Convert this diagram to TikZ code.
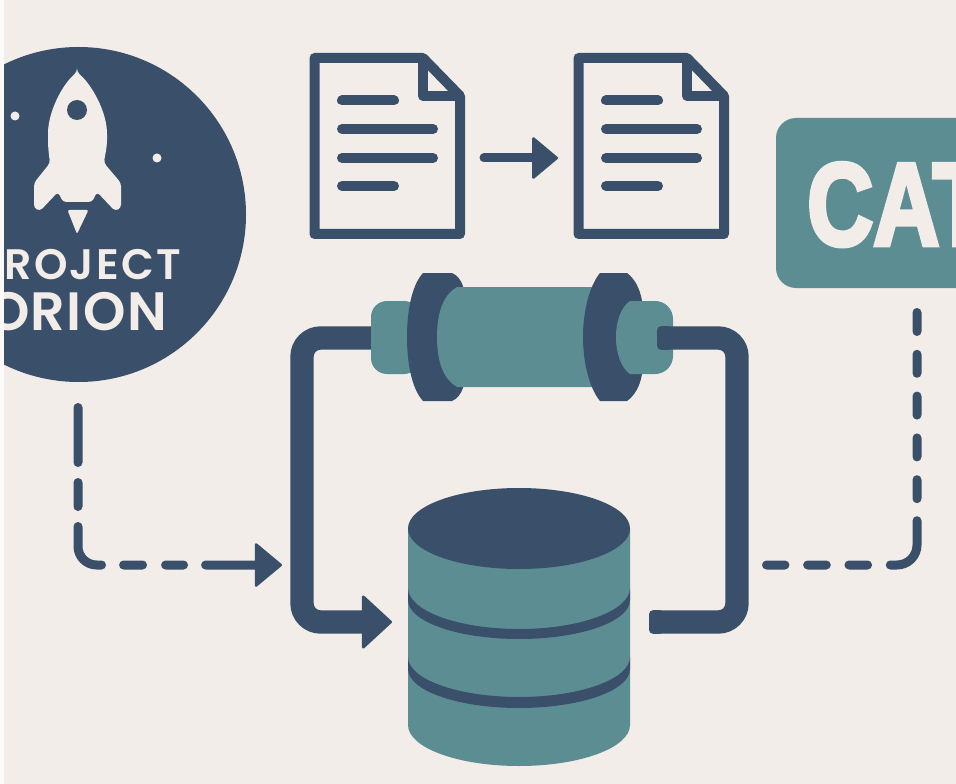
\documentclass[tikz,border=0pt]{standalone}
\usepackage{fontspec}
\usetikzlibrary{arrows.meta}
\newfontfamily\orionfont[LetterSpace=2.5]{Poppins SemiBold}
\newfontfamily\projfont[LetterSpace=5]{Poppins SemiBold}
\newfontfamily\catfont[FakeBold=4]{Liberation Sans Bold}
\definecolor{paper}{HTML}{F2EDE9}
\definecolor{strip}{HTML}{FBFAF9}
\definecolor{navy}{HTML}{3A4F6A}
\definecolor{teal}{HTML}{5B8D93}
\tikzset{
  thin line/.style={draw=navy,line width=6.75pt,line cap=round,line join=round},
  doc line/.style={draw=navy,line width=7.5pt,line cap=round},
  doc edge/.style={draw=navy,line width=7.5pt,line join=round},
  pipe/.style={draw=navy,line width=17.5pt,rounded corners=14pt},
  word/.style={inner sep=0pt,text=paper},
}
\begin{document}
\begin{tikzpicture}[x=0.75pt,y=-0.75pt]
\useasboundingbox (0,0) rectangle (956,784);
\fill[strip] (0,0) rectangle (956,784);
\begin{scope}
\clip (4,0) rectangle (956,784);
\fill[paper] (0,0) rectangle (956,784);

% logo
\fill[navy] (78.5,214.5) circle [radius=167.5];
\fill[paper,rounded corners=2.5] (77,72) .. controls (62,85) and (48,112) .. (48,137)
  .. controls (48,148) and (49,155) .. (50,163) -- (34,183) -- (34,208) -- (40,211) -- (58,192) -- (63,202)
  -- (92,202) -- (97,192) -- (115,211) -- (121,208) -- (121,183) -- (104,163)
  .. controls (105,155) and (107,148) .. (107,137) .. controls (107,112) and (92,85) .. (77,72) -- cycle;
\fill[navy] (77,110) circle [radius=10];
\fill[paper,rounded corners=1.5] (67.5,210) -- (88.5,210) -- (77,234) -- cycle;
\fill[paper] (15,116) circle [radius=4.5];
\fill[paper] (157,158) circle [radius=4.5];
\node[word,anchor=base east] (project) at (181,279) {\fontsize{32}{32}\projfont ROJECT};
\node[word,anchor=base east] (orion) at (167,330) {\fontsize{40.5}{40.5}\orionfont ORION};

% documents
\foreach \dx/\nm in {0/one,264/two}{
  \begin{scope}[xshift=\dx*0.75pt]
    \path[doc edge] (314.5,58) -- (423,58) -- (460,96) -- (460,234) -- (314.5,234) -- cycle;
    \path[doc edge] (423,58) -- (423,96) -- (460,96);
    \path[doc line] (342,100.5) -- (394,100.5);
    \path[doc line] (342,129) -- (433,129);
    \path[doc line] (342,158) -- (433,158);
    \path[doc line] (342,186) -- (394,186);
  \end{scope}
}
\coordinate (arrowstart) at (484,158);
\coordinate (arrowend) at (558,158);
\draw[thin line,-{Triangle[round,length=20pt,width=33pt,line width=2pt]}] (arrowstart) -- (arrowend);

% catalog label
\fill[teal,rounded corners=15pt] (776,118) rectangle (1000,288);
\node[word,anchor=base west,xscale=.78] (cat) at (807,245) {\fontsize{88}{88}\catfont CAT};

% dashed connectors
\coordinate (dashastart) at (78,407.5);
\coordinate (dashacorner) at (78,565);
\coordinate (dashaend) at (282,565);
\draw[thin line,rounded corners=14pt,dash pattern=on 41.25pt off 15pt on 18pt off 15pt on 40.5pt off 16.5pt on 14.25pt off 17.25pt on 13.5pt off 16.5pt on 60pt,-{Triangle[round,length=21pt,width=34.5pt,line width=2pt]}] (dashastart) -- (dashacorner) -- (dashaend);
\coordinate (dashbstart) at (917,312.5);
\coordinate (dashbcorner) at (917,565);
\coordinate (dashbend) at (766.5,565);
\draw[thin line,rounded corners=15pt,dash pattern=on 14.25pt off 17.1pt on 14.25pt off 17.1pt on 14.25pt off 17.1pt on 14.25pt off 17.1pt on 14.25pt off 16.5pt on 46.8pt off 17pt on 14pt off 17pt on 14pt off 17pt on 14pt] (dashbstart) -- (dashbcorner) -- (dashbend);

% left pipe goes under the roller
\coordinate (lefttop) at (380,338);
\coordinate (leftcorner) at (302,338);
\coordinate (leftbot) at (302,622);
\coordinate (leftend) at (392,622);
\draw[pipe,rounded corners=14pt,-{Triangle[round,length=23pt,width=42pt,line width=2pt]}] (lefttop) -- (leftcorner) -- (leftbot) -- (leftend);

% roller
\fill[teal,rounded corners=12] (371,301) rectangle (420,374);
\fill[navy] (423,273) -- (452,273) .. controls (457,275) and (461,280) .. (463,286) -- (463,388)
  .. controls (461,394) and (457,399) .. (452,401) -- (423,401)
  .. controls (412,389) and (407,364) .. (407,337) .. controls (407,310) and (412,285) .. (423,273) -- cycle;
\fill[teal] (457,287) -- (596,287) -- (596,387) -- (457,387)
  .. controls (445,380) and (437,365) .. (437,337) .. controls (437,309) and (445,294) .. (457,287) -- cycle;
\fill[navy] (600,273) -- (627,273) .. controls (634,278) and (640,288) .. (642,301) -- (642,374)
  .. controls (640,387) and (634,396) .. (627,401) -- (600,401)
  .. controls (590,389) and (583,364) .. (583,337) .. controls (583,310) and (590,285) .. (600,273) -- cycle;
\fill[teal] (630,301) -- (655,301) .. controls (665,301) and (673,309) .. (673,319) -- (673,356)
  .. controls (673,366) and (665,374) .. (655,374) -- (630,374)
  .. controls (621,368) and (616,353) .. (616,337) .. controls (616,321) and (621,307) .. (630,301) -- cycle;

% database
\fill[teal] (408,528.5) -- (408,725) arc [start angle=180,end angle=0,x radius=111,y radius=41] -- (630,528.5) -- cycle;
\fill[navy] (519,528.5) ellipse [x radius=111,y radius=40.5];
\fill[navy] (408,588) arc [start angle=180,end angle=0,x radius=111,y radius=41] -- (630,600) arc [start angle=0,end angle=180,x radius=111,y radius=39] -- cycle;
\fill[navy] (408,657) arc [start angle=180,end angle=0,x radius=111,y radius=40] -- (630,669) arc [start angle=0,end angle=180,x radius=111,y radius=39] -- cycle;

% right pipe
\coordinate (righttop) at (664,338);
\coordinate (rightcorner) at (737,338);
\coordinate (rightbot) at (737,622);
\coordinate (rightend) at (655,622);
\path[pipe] (righttop) -- (rightcorner) -- (rightbot) -- (rightend);
\fill[navy,rounded corners=3] (657,326.2) rectangle (672,349.8);
\fill[navy,rounded corners=3] (649,610.2) rectangle (664,633.8);
\end{scope}
\end{tikzpicture}
\end{document}
